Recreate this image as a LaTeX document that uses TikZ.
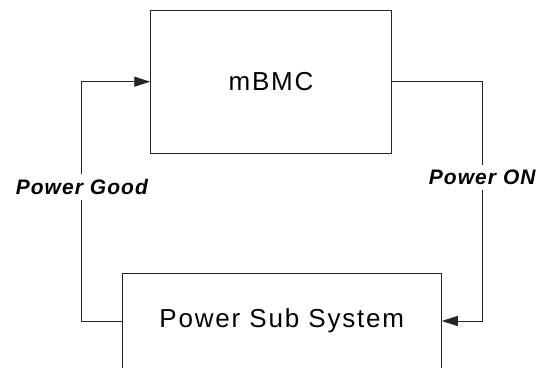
\documentclass[tikz,border=0pt]{standalone}
\usepackage{fontspec}
\setmainfont{Liberation Sans}
\usetikzlibrary{positioning,arrows.meta}

\begin{document}
\begin{tikzpicture}
[   x=1pt,y=-1pt,
    block/.style={draw=black!85,line width=0.9pt,font=\fontsize{26}{30}\selectfont\addfontfeature{LetterSpace=7}},
    signal/.style={fill=white,inner sep=5pt,font=\bfseries\itshape\fontsize{21}{24}\selectfont\addfontfeature{LetterSpace=5}},
]
\tikzset{normal arrow/.style={draw=black!85,line width=0.9pt,-{Triangle[length=16pt,width=10pt]}}}
\useasboundingbox (0,0) rectangle (538,367);

\node[block,minimum width=240.6pt,minimum height=143.3pt] (mbmc) at (271,81.7) {mBMC};
\node[block,minimum width=319pt,minimum height=95.4pt] (pss) at (281.8,321) {Power Sub System};

% mBMC switches the supply on
\path[normal arrow] (mbmc.east) -- ++(90.5,0) |- node[signal,pos=0.2] {Power ON} (pss.east);
% supply reports back when it is stable
\path[normal arrow] (pss.west) -- ++(-40,0) |- node[signal,pos=0.28] {Power Good} (mbmc.west);
\end{tikzpicture}
\end{document}
